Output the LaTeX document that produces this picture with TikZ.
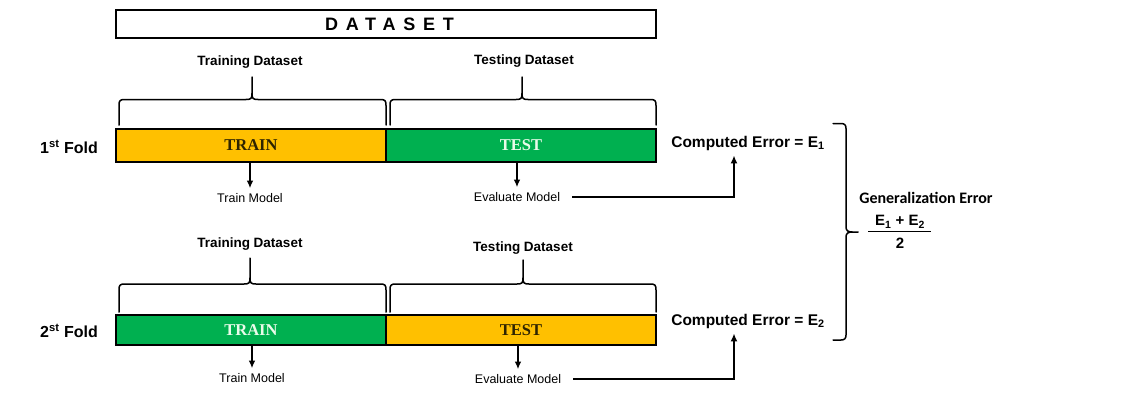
\documentclass[tikz,border=0pt]{standalone}
\usepackage{fontspec}
\setmainfont{Liberation Sans}
\newfontfamily\spacedfont[LetterSpace=43]{Liberation Sans}
\newfontfamily\serifb{Liberation Serif}
\newfontfamily\calib{Carlito}
\usetikzlibrary{arrows.meta}
\definecolor{orangeY}{HTML}{FFC000}
\definecolor{greenB}{HTML}{00B050}
\definecolor{darktxt}{HTML}{2E2400}
\definecolor{lighttxt}{HTML}{EAFBEA}
\newcommand\hbrace[6]{%
\draw[brc] (#1,#6) -- (#1,#5+6) .. controls (#1,#5+1) and (#1+1,#5) .. (#1+6,#5) -- (#2-6,#5) .. controls (#2-1,#5) and (#2,#5-1) .. (#2,#5-6) -- (#2,#4);
\draw[brc] (#2,#5-6) .. controls (#2,#5-1) and (#2+1,#5) .. (#2+6,#5) -- (#3-6,#5) .. controls (#3-1,#5) and (#3,#5+1) .. (#3,#5+6) -- (#3,#6);}
\begin{document}
\begin{tikzpicture}[x=1pt,y=-1pt,
  brc/.style={line width=1.5pt,line cap=round,line join=round},
  arr/.style={line width=1.4pt,-{Latex[length=7.5pt,width=6.5pt]}},
  evl/.style={line width=1.8pt,-{Latex[length=8pt,width=7pt]}},
  lbl/.style={font=\bfseries\fontsize{13.5}{15}\selectfont,inner sep=2pt},
  mdl/.style={font=\fontsize{12.5}{14}\selectfont,inner sep=2pt},
  fold/.style={font=\bfseries\fontsize{16}{18}\selectfont,anchor=east,inner sep=0pt},
  cerr/.style={font=\bfseries\fontsize{15.5}{18}\selectfont,inner sep=2pt},
  barA/.style={draw,line width=1.8pt,minimum width=270pt,inner sep=0pt,font=\serifb\bfseries\fontsize{16.5}{18}\selectfont}]
\useasboundingbox (0,0) rectangle (1136,407);
\fill[white] (0,0) rectangle (1136,407);
% dataset box
\node[draw,line width=1.6pt,minimum width=540pt,minimum height=28pt,inner sep=0pt,
  font=\spacedfont\bfseries\fontsize{18}{20}\selectfont] (ds) at (386,24) {\hspace*{7pt}DATASET};
% ---------- fold 1 ----------
\node[lbl] (trd1) at (250,62) {Training Dataset};
\node[lbl] (ted1) at (524,61) {Testing Dataset};
\hbrace{119}{252}{386}{77}{99.5}{125}
\hbrace{390}{522}{656}{77}{99.5}{125}
\node[barA,fill=orangeY,minimum height=33pt,text=darktxt] (tr1) at (251,145.5) {TRAIN};
\node[barA,fill=greenB,minimum height=33pt,text=lighttxt] (te1) at (521,145.5) {TEST};
\node[fold] (f1) at (98,147) {1\textsuperscript{st} Fold};
\node[mdl] (tm1) at (250,198) {Train Model};
\node[mdl] (em1) at (517,197) {Evaluate Model};
\draw[arr,shorten >=3pt] (tm1.north |- tr1.south) -- (tm1.north);
\draw[arr,shorten >=3pt] (em1.north |- te1.south) -- (em1.north);
\node[cerr] (ce1) at (748,143) {Computed Error = E\textsubscript{1}};
\draw[evl,shorten >=3pt] ([xshift=10pt]em1.east) -| ([xshift=-14pt]ce1.south);
% ---------- fold 2 ----------
\node[lbl] (trd2) at (250,244) {Training Dataset};
\node[lbl] (ted2) at (523,248) {Testing Dataset};
\hbrace{119}{250}{386}{258}{284}{312}
\hbrace{390}{523}{656}{260}{284}{312}
\node[barA,fill=greenB,minimum height=29.5pt,text=lighttxt] (tr2) at (251,330) {TRAIN};
\node[barA,fill=orangeY,minimum height=29.5pt,text=darktxt] (te2) at (521,330) {TEST};
\node[fold] (f2) at (98,331) {2\textsuperscript{st} Fold};
\node[mdl] (tm2) at (252,378) {Train Model};
\node[mdl] (em2) at (518,379) {Evaluate Model};
\draw[arr,shorten >=3pt] (tm2.north |- tr2.south) -- (tm2.north);
\draw[arr,shorten >=3pt] (em2.north |- te2.south) -- (em2.north);
\node[cerr] (ce2) at (748,321) {Computed Error = E\textsubscript{2}};
\draw[evl,shorten >=3pt] ([xshift=10pt]em2.east) -| ([xshift=-14pt]ce2.south);
% ---------- right brace ----------
\draw[brc] (833,123.5) -- (841,123.5) .. controls (844.5,123.5) and (846,125) .. (846,128.5)
  -- (846,227) .. controls (846,230.5) and (848,232) .. (852,232) -- (858,232);
\draw[brc] (852,232) .. controls (848,232) and (846,233.5) .. (846,237)
  -- (846,335) .. controls (846,338.5) and (844.5,340) .. (841,340) -- (833,340);
\node[font=\calib\bfseries\fontsize{16}{18}\selectfont,inner sep=1pt] (ge) at (926,198) {Generalization Error};
\node[font=\bfseries\fontsize{15}{17}\selectfont,inner sep=1pt] (num) at (900,222) {E\textsubscript{1} + E\textsubscript{2}};
\node[font=\bfseries\fontsize{15}{17}\selectfont,inner sep=1pt] (den) at (900,243) {2};
\draw[line width=1.3pt] (868,231.5) -- (931,231.5);
\end{tikzpicture}
\end{document}
